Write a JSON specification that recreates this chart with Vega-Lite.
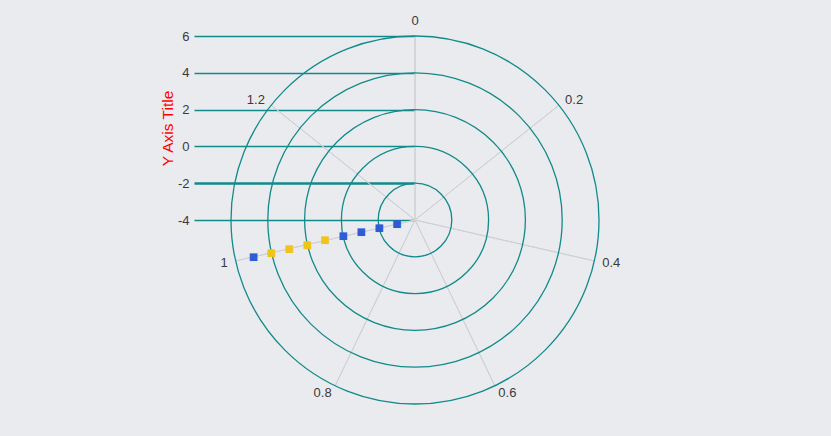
{
  "$schema": "https://vega.github.io/schema/vega-lite/v6.json",
  "width": 368,
  "height": 368,
  "autosize": "none",
  "padding": {"left": 231, "top": 36, "right": 232, "bottom": 32},
  "background": "#eaebef",
  "config": {"view": {"stroke": null}},
  "datasets": {
    "levels": [{"level": -4}, {"level": -2}, {"level": 0}, {"level": 2}, {"level": 4}, {"level": 6}],
    "rings": [{"r": -2}, {"r": 0}, {"r": 2}, {"r": 4}, {"r": 6}],
    "spokes": [{"angle": 0}, {"angle": 0.2}, {"angle": 0.4}, {"angle": 0.6}, {"angle": 0.8}, {"angle": 1.0}, {"angle": 1.2}],
    "points": [
      {"angle": 1, "value": -3, "series": "Series 1"},
      {"angle": 1, "value": -2, "series": "Series 1"},
      {"angle": 1, "value": -1, "series": "Series 1"},
      {"angle": 1, "value": 0, "series": "Series 1"},
      {"angle": 1, "value": 1, "series": "Series 2"},
      {"angle": 1, "value": 2, "series": "Series 2"},
      {"angle": 1, "value": 3, "series": "Series 2"},
      {"angle": 1, "value": 4, "series": "Series 2"},
      {"angle": 1, "value": 5, "series": "Series 1"}
    ]
  },
  "layer": [
    {
      "data": {"name": "levels"},
      "mark": {"type": "point", "opacity": 0},
      "encoding": {
        "y": {
          "field": "level",
          "type": "quantitative",
          "scale": {"domain": [-14, 6], "nice": false, "zero": false},
          "axis": {
            "values": [-4, -2, 0, 2, 4, 6],
            "labelExpr": "datum.value < 0 ? '-' + abs(datum.value) : '' + datum.value",
            "offset": -184,
            "tickSize": 221,
            "tickColor": "#128a8a",
            "tickWidth": {"expr": "datum.value === -2 ? 2.5 : 1.3"},
            "domain": false,
            "grid": false,
            "labelPadding": 5,
            "labelFont": "Liberation Sans",
            "labelFontSize": 13,
            "labelColor": "#3a3a3a",
            "title": "Y Axis Title",
            "titleColor": "#ff0000",
            "titleFont": "Liberation Sans",
            "titleFontSize": 15.5,
            "titleFontWeight": "normal",
            "titleAngle": 270,
            "titleBaseline": "bottom",
            "titleAlign": "center",
            "titleX": -240,
            "titleY": 92
          }
        }
      }
    },
    {
      "data": {"name": "spokes"},
      "mark": {"type": "arc", "filled": false, "stroke": "#cfd0d4", "strokeWidth": 1, "radius": 184, "radius2": 0},
      "encoding": {
        "theta": {"field": "angle", "type": "quantitative", "stack": false, "scale": {"domain": [0, 1.4], "range": [0, 6.283185307], "zero": false, "nice": false}},
        "theta2": {"field": "angle"}
      }
    },
    {
      "data": {"name": "rings"},
      "mark": {"type": "arc", "filled": false, "stroke": "#128a8a", "strokeWidth": 1.3, "theta": 0, "theta2": 6.2832, "radius2": 0},
      "encoding": {
        "radius": {"field": "r", "type": "quantitative", "stack": false, "scale": {"type": "linear", "domain": [-4, 6], "range": [0, 184], "zero": false, "nice": false}}
      }
    },
    {
      "data": {"name": "spokes"},
      "mark": {
        "type": "text",
        "radius": 192,
        "font": "Liberation Sans",
        "fontSize": 13,
        "color": "#3a3a3a",
        "align": {"expr": "datum.angle == 0 ? 'center' : (datum.angle < 0.7 ? 'left' : 'right')"},
        "baseline": {"expr": "datum.angle == 0 ? 'bottom' : 'middle'"}
      },
      "encoding": {
        "theta": {"field": "angle", "type": "quantitative", "stack": false, "scale": {"domain": [0, 1.4], "range": [0, 6.283185307], "zero": false, "nice": false}},
        "text": {"field": "angle", "type": "quantitative", "format": ".1~f"}
      }
    },
    {
      "data": {"name": "points"},
      "mark": {"type": "text", "font": "DejaVu Sans", "fontSize": 10, "align": "center", "baseline": "middle"},
      "encoding": {
        "theta": {"field": "angle", "type": "quantitative", "stack": false, "scale": {"domain": [0, 1.4], "range": [0, 6.283185307], "zero": false, "nice": false}},
        "radius": {"field": "value", "type": "quantitative", "stack": false, "scale": {"type": "linear", "domain": [-4, 6], "range": [0, 184], "zero": false, "nice": false}},
        "text": {"value": "■"},
        "color": {"field": "series", "type": "nominal", "scale": {"domain": ["Series 1", "Series 2"], "range": ["#2f5bd6", "#f0c419"]}, "legend": null}
      }
    }
  ]
}
